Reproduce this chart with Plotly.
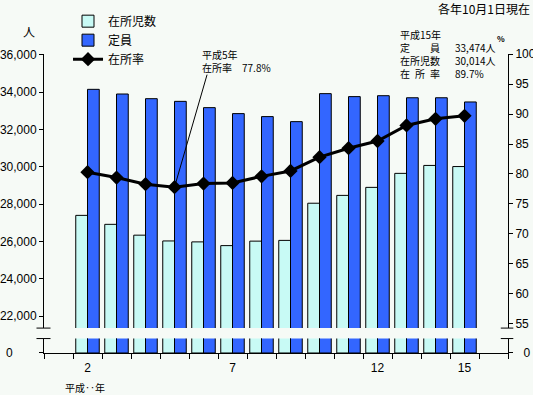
import plotly.graph_objects as go

# ---- data ----
all_years = [str(i) for i in range(1, 17)]          # 平成1..16 (category slots)
tick_text = ["", "2", "", "", "", "", "7", "", "", "", "", "12", "", "", "15", ""]
years = ["2", "3", "4", "5", "6", "7", "8", "9", "10", "11", "12", "13", "14", "15"]
children = [27400, 26920, 26340, 26030, 25980, 25780, 26020, 26060, 28050, 28470, 28900, 29650, 30075, 30014]
capacity = [34150, 33900, 33650, 33507, 33170, 32850, 32690, 32420, 33920, 33760, 33810, 33700, 33700, 33474]
rate = [80.3, 79.4, 78.3, 77.8, 78.4, 78.5, 79.6, 80.5, 82.8, 84.3, 85.5, 88.1, 89.2, 89.7]
left_ticks = [22000, 24000, 26000, 28000, 30000, 32000, 34000, 36000]
right_ticks = [55, 60, 65, 70, 75, 80, 85, 90, 95, 100]

# ---- geometry (pixels) ----
W, H = 533, 395
ML, MR, MT, MB = 44, 25.3, 53.5, 41.5
PW, PH = W - ML - MR, H - MT - MB
TOP_BOTTOM_PX = 328.5
LOW_TOP_PX = 339.0
AXIS_PX = H - MB


def px(x):
    return (x - ML) / PW


def py(y):
    return (AXIS_PX - y) / PH


top_dom = [py(TOP_BOTTOM_PX), 1]
low_dom = [0, py(LOW_TOP_PX)]

LIGHT = "#C8FAF5"
BLUE = "#3366FF"
BG = "#F6FAF6"
JP = "Noto Sans CJK JP"
NUM = "Liberation Sans"

fig = go.Figure()

# upper (broken) section
fig.add_trace(go.Bar(x=years, y=children, name="在所児数", xaxis="x2", yaxis="y2",
                     marker=dict(color=LIGHT, line=dict(color="black", width=1)),
                     hoverinfo="skip"))
fig.add_trace(go.Bar(x=years, y=capacity, name="定員", xaxis="x2", yaxis="y2",
                     marker=dict(color=BLUE, line=dict(color="black", width=1)),
                     hoverinfo="skip"))
fig.add_trace(go.Scatter(x=years, y=rate, name="在所率", xaxis="x2", yaxis="y3",
                         mode="lines+markers",
                         line=dict(color="black", width=3),
                         marker=dict(symbol="diamond", size=11, color="black"),
                         hoverinfo="skip"))
# lower section (same bars, clipped)
fig.add_trace(go.Bar(x=years, y=children, xaxis="x", yaxis="y", showlegend=False,
                     marker=dict(color=LIGHT, line=dict(color="black", width=1)),
                     hoverinfo="skip"))
fig.add_trace(go.Bar(x=years, y=capacity, xaxis="x", yaxis="y", showlegend=False,
                     marker=dict(color=BLUE, line=dict(color="black", width=1)),
                     hoverinfo="skip"))
# helper so that the lower right axis is drawn
fig.add_trace(go.Scatter(x=[years[0]], y=[0], xaxis="x", yaxis="y4", mode="markers",
                         marker=dict(opacity=0), showlegend=False, hoverinfo="skip"))

axis_common = dict(showline=True, linecolor="black", linewidth=1, ticks="outside",
                   tickcolor="black", showgrid=False, zeroline=False, automargin=False,
                   tickfont=dict(family=NUM, size=12, color="black"))

fig.update_layout(
    width=W, height=H,
    margin=dict(l=ML, r=MR, t=MT, b=MB, autoexpand=False),
    paper_bgcolor=BG, plot_bgcolor=BG,
    barmode="group", bargap=0.19, bargroupgap=0,
    xaxis=dict(type="category", categoryorder="array", categoryarray=all_years,
               range=[-0.5, 15.5], tickmode="array", tickvals=all_years, ticktext=tick_text,
               tickson="boundaries", ticklen=5, anchor="y", domain=[0, 1],
               ticklabelstandoff=4, **axis_common),
    xaxis2=dict(type="category", categoryorder="array", categoryarray=all_years,
                range=[-0.5, 15.5], matches="x", anchor="y2", visible=False, automargin=False),
    yaxis=dict(domain=low_dom, range=[0, 1000], tickmode="array", tickvals=[0], ticktext=["0"],
               ticklen=4, anchor="x", ticklabelstandoff=24, **axis_common),
    yaxis2=dict(domain=top_dom, range=[21363, 36043], tickmode="array", tickvals=left_ticks,
                ticktext=[f"{v:,}" for v in left_ticks], ticklen=4, anchor="x2", **axis_common),
    yaxis3=dict(overlaying="y2", side="right", range=[54.28, 100.02], tickmode="array",
                tickvals=right_ticks, ticktext=[str(v) for v in right_ticks],
                ticklen=4, anchor="x2", **axis_common),
    yaxis4=dict(overlaying="y", side="right", range=[0, 1000], tickmode="array", tickvals=[0],
                ticktext=["0"], ticklen=4, anchor="x", ticklabelstandoff=8, **axis_common),
    legend=dict(x=px(68), y=py(6), xanchor="left", yanchor="top",
                bgcolor="rgba(0,0,0,0)", font=dict(family=JP, size=12, color="black"),
                itemwidth=30, tracegroupgap=0),
    showlegend=True,
)

# break marks
shapes = []
for yy in [TOP_BOTTOM_PX, LOW_TOP_PX]:
    shapes.append(dict(type="line", xref="paper", yref="paper", x0=px(36.5), x1=px(50.5),
                       y0=py(yy), y1=py(yy), line=dict(color="black", width=1)))
    shapes.append(dict(type="line", xref="paper", yref="paper", x0=px(500.5), x1=px(513),
                       y0=py(yy), y1=py(yy), line=dict(color="black", width=1)))
fig.update_layout(shapes=shapes)

ann = []


def txt(t, x, y, size=10, xanchor="left", yanchor="middle", family=JP):
    ann.append(dict(text=t, x=px(x), y=py(y), xref="paper", yref="paper", showarrow=False,
                    xanchor=xanchor, yanchor=yanchor, align="left",
                    font=dict(family=family, size=size, color="black")))


txt("各年10月1日現在", 532, 8, size=12, xanchor="right")
txt("人", 29, 31, size=12, xanchor="center")
txt("平成15年<br>定\u3000\u3000員<br>在所児数<br>在\u2002所\u2002率", 398, 24, yanchor="top")
txt("33,474人<br>30,014人<br>89.7%", 453, 37, yanchor="top")
txt("<b>%</b>", 501, 38, size=8, xanchor="center")
txt("平成5年<br>在所率\u300077.8%", 200, 44, yanchor="top")
txt("平成‥年", 85, 388, size=10, xanchor="center")
ann.append(dict(x=all_years.index("5"), y=77.8, xref="x2", yref="y3", text="", showarrow=True,
                ax=33, ay=-114, arrowhead=0, arrowwidth=1, arrowcolor="black", standoff=0))
fig.update_layout(annotations=ann)

fig.write_html("out.html", post_script="document.body.style.margin='0';",
               config={"displayModeBar": False})
